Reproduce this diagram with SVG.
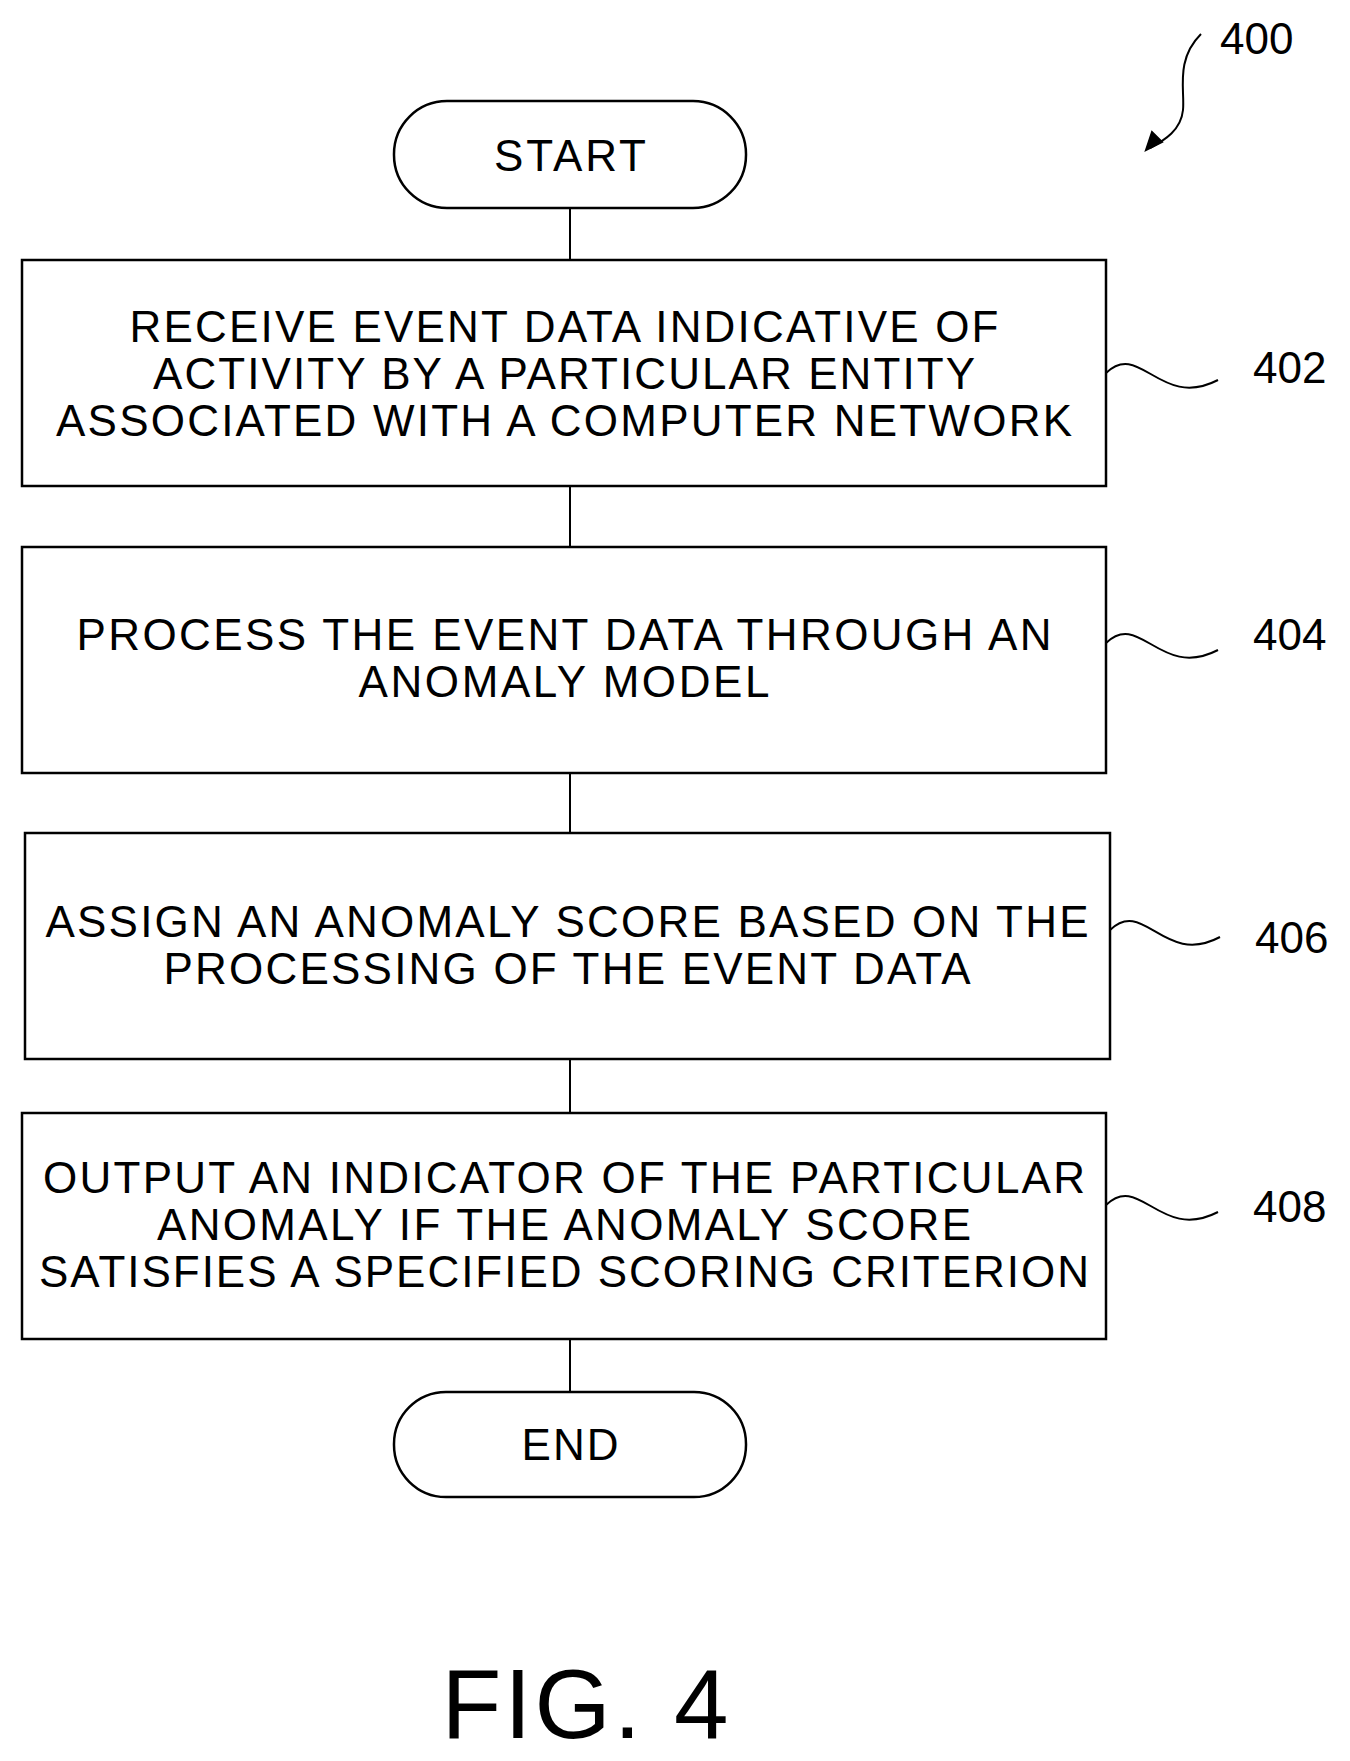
<svg xmlns="http://www.w3.org/2000/svg" width="1350" height="1761" viewBox="0 0 1350 1761">
<style>
.b{fill:#fff;stroke:#000;stroke-width:2.5}
.c{stroke:#000;stroke-width:2;fill:none}
.t{font-family:"Liberation Sans",Arial,sans-serif;font-size:44px;text-anchor:middle;fill:#000}
.l{font-family:"Liberation Sans",Arial,sans-serif;font-size:44px;fill:#000}
</style>
<rect width="1350" height="1761" fill="#fff"/>
<g id="connectors" class="c">
<line x1="570" y1="208" x2="570" y2="260"/>
<line x1="570" y1="486" x2="570" y2="547"/>
<line x1="570" y1="773" x2="570" y2="833"/>
<line x1="570" y1="1059" x2="570" y2="1113"/>
<line x1="570" y1="1339" x2="570" y2="1392"/>
<path d="M1106,373 C1140,340 1160,410 1218,380"/>
<path d="M1106,643 C1140,610 1160,680 1218,650"/>
<path d="M1110,930 C1144,897 1164,967 1220,937"/>
<path d="M1106,1205 C1140,1172 1160,1242 1218,1212"/>
<path d="M1201,34 C1175,60 1185,90 1183,110 C1181,130 1165,140 1150,148"/>
<polygon points="1146,150 1152,132 1162,142" fill="#000"/>
</g>
<g id="start"><rect class="b" x="394" y="101" width="352" height="107" rx="53"/><text class="t" x="570" y="171" textLength="152">START</text></g>
<g id="n402"><rect class="b" x="22" y="260" width="1084" height="226"/>
<text class="t" x="564" y="342" textLength="869">RECEIVE EVENT DATA INDICATIVE OF</text>
<text class="t" x="564" y="389" textLength="822">ACTIVITY BY A PARTICULAR ENTITY</text>
<text class="t" x="564" y="436" textLength="1016">ASSOCIATED WITH A COMPUTER NETWORK</text>
<text class="l" x="1253" y="383">402</text></g>
<g id="n404"><rect class="b" x="22" y="547" width="1084" height="226"/>
<text class="t" x="564" y="650" textLength="975">PROCESS THE EVENT DATA THROUGH AN</text>
<text class="t" x="564" y="697" textLength="411">ANOMALY MODEL</text>
<text class="l" x="1253" y="650">404</text></g>
<g id="n406"><rect class="b" x="25" y="833" width="1085" height="226"/>
<text class="t" x="567" y="937" textLength="1043">ASSIGN AN ANOMALY SCORE BASED ON THE</text>
<text class="t" x="567" y="984" textLength="807">PROCESSING OF THE EVENT DATA</text>
<text class="l" x="1255" y="953">406</text></g>
<g id="n408"><rect class="b" x="22" y="1113" width="1084" height="226"/>
<text class="t" x="564" y="1193" textLength="1042">OUTPUT AN INDICATOR OF THE PARTICULAR</text>
<text class="t" x="564" y="1240" textLength="814">ANOMALY IF THE ANOMALY SCORE</text>
<text class="t" x="564" y="1287" textLength="1050">SATISFIES A SPECIFIED SCORING CRITERION</text>
<text class="l" x="1253" y="1222">408</text></g>
<g id="end"><rect class="b" x="394" y="1392" width="352" height="105" rx="52"/><text class="t" x="570" y="1460" textLength="97">END</text></g>
<text class="l" x="1220" y="54">400</text>
<text x="585" y="1738" font-family="'Liberation Sans',Arial,sans-serif" font-size="98" text-anchor="middle" textLength="287">FIG. 4</text>
</svg>
